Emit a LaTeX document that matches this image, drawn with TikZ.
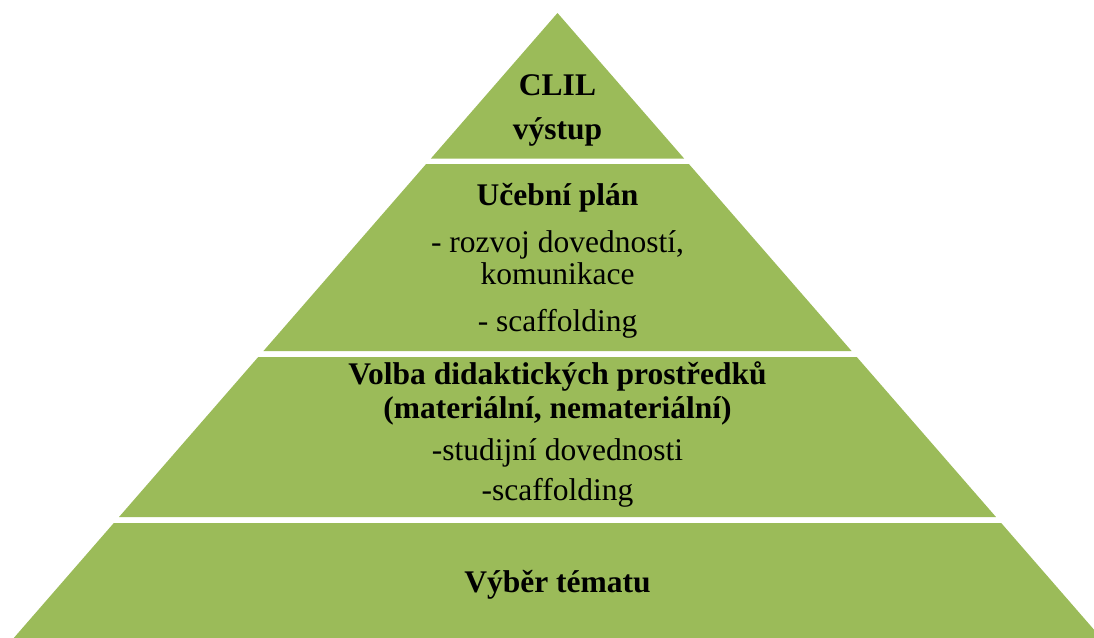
\documentclass[tikz,border=0pt]{standalone}
\usepackage{fontspec}
\setmainfont{Liberation Serif}
\definecolor{layergreen}{HTML}{9BBB59}
\tikzset{
  layer/.style={fill=layergreen},
  txt/.style={anchor=base,font=\fontsize{31.5}{36}\selectfont},
  hd/.style={anchor=base,font=\fontsize{31.5}{36}\selectfont\bfseries},
}
\begin{document}
\begin{tikzpicture}[x=1pt,y=-1pt]
        \useasboundingbox (0,0) rectangle (1094,637);
        \clip (0,0) rectangle (1094,637);
        % pyramid layers, top and bottom edge of each
        \foreach \t/\b in {13/158.5,164/351,357/517,523/650}
          \fill[layer] ({557.5-0.87*(\t-13)},\t) -- ({557.5+0.87*(\t-13)},\t)
            -- ({557.5+0.87*(\b-13)},\b) -- ({557.5-0.87*(\b-13)},\b) -- cycle;
        \node[hd] (clil) at (557.5,95) {CLIL};
        \node[hd] (vystup) at (557.5,139) {výstup};
        \node[hd] (plan) at (557.5,205) {Učební plán};
        \node[txt] (rozvoj) at (557.5,252) {- rozvoj dovedností,};
        \node[txt] (komun) at (557.5,284) {komunikace};
        \node[txt] (scaf1) at (557.5,331) {- scaffolding};
        \node[hd] (volba) at (557.5,384) {Volba didaktických prostředků};
        \node[hd] (mater) at (557.5,418) {(materiální, nemateriální)};
        \node[txt] (studij) at (557.5,460) {-studijní dovednosti};
        \node[txt] (scaf2) at (557.5,500) {-scaffolding};
        \node[hd] (vyber) at (557.5,592) {Výběr tématu};
  \end{tikzpicture}
\end{document}
